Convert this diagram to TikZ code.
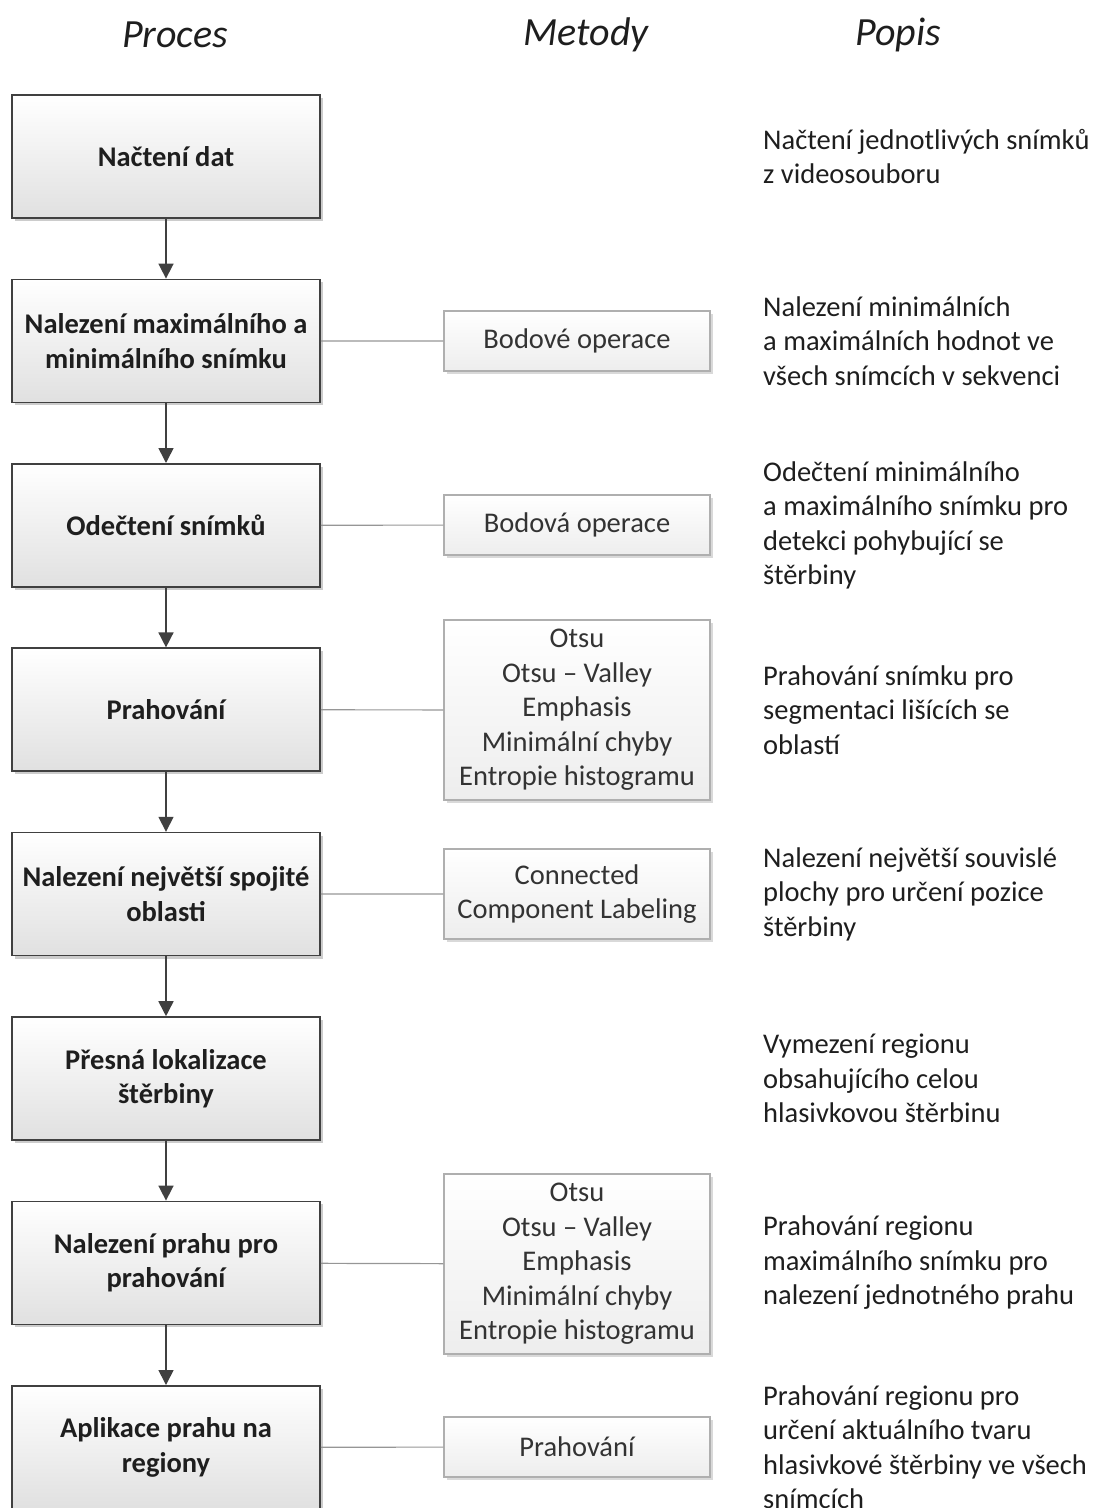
\documentclass[tikz,border=0pt]{standalone}
\usepackage{fontspec}
\setmainfont{Carlito}
\usetikzlibrary{positioning,arrows.meta,shadows}
\definecolor{boxline}{RGB}{64,64,64}
\definecolor{methodline}{RGB}{175,175,175}
\definecolor{linkcolor}{RGB}{150,150,150}
\definecolor{textcolor}{RGB}{30,30,30}

\begin{document}
\begin{tikzpicture}[x=1pt, y=-1pt,
    proces/.style={draw=boxline, line width=1.6pt, top color=white, bottom color=black!12,
        minimum width=308pt, minimum height=123pt, inner sep=0pt, align=center,
        font=\fontsize{28.5}{34.5}\selectfont\bfseries, text=textcolor,
        drop shadow={shadow xshift=3pt, shadow yshift=-3pt, opacity=0.2, fill=black}},
    metoda/.style={draw=methodline, line width=1.2pt, top color=white, bottom color=black!7,
        minimum width=266pt, minimum height=60pt, inner sep=0pt, align=center,
        font=\fontsize{28.5}{34.5}\selectfont, text=black!80,
        drop shadow={shadow xshift=3pt, shadow yshift=-3pt, opacity=0.15, fill=black}},
    popis/.style={anchor=west, align=left, inner sep=0pt,
        font=\fontsize{28.5}{34.5}\selectfont, text=textcolor},
    hlavicka/.style={font=\fontsize{40}{46}\selectfont\itshape, text=textcolor},
    sipka/.style={draw=boxline, line width=1.6pt, -{Triangle[width=15pt,length=15pt]}},
    spoj/.style={draw=linkcolor, line width=1.2pt}
    ]
    \useasboundingbox (0,0) rectangle (1099,1508);

    % Headers
    \node[hlavicka] (hproces) at (175,35) {Proces};
    \node[hlavicka] (hmetody) at (586,35) {Metody};
    \node[hlavicka] (hpopis) at (898,35) {Popis};

    % Process steps
    \foreach \nazev [count=\i] in {{Načtení dat},
        {Nalezení maximálního a\\minimálního snímku},
        {Odečtení snímků},
        {Prahování},
        {Nalezení největší spojité\\oblasti},
        {Přesná lokalizace\\štěrbiny},
        {Nalezení prahu pro\\prahování},
        {Aplikace prahu na\\regiony}} {
        \pgfmathsetmacro{\ypos}{156.5+184.4*(\i-1)}
        \node[proces] (p\i) at (166,\ypos) {\nazev};
    }

    % Arrows between steps
    \foreach \i in {1,...,7} {
        \pgfmathtruncatemacro{\k}{\i+1}
        \draw[sipka] (p\i) -- (p\k);
    }

    % Methods
    \node[metoda] (m2) at (577,341) {Bodové operace};
    \node[metoda] (m3) at (577,525) {Bodová operace};
    \node[metoda, minimum height=180pt] (m4) at (577,710)
        {Otsu\\Otsu – Valley\\Emphasis\\Minimální chyby\\Entropie histogramu};
    \node[metoda, minimum height=90pt] (m5) at (577,894)
        {Connected\\Component Labeling};
    \node[metoda, minimum height=180pt] (m7) at (577,1264)
        {Otsu\\Otsu – Valley\\Emphasis\\Minimální chyby\\Entropie histogramu};
    \node[metoda] (m8) at (577,1447) {Prahování};

    \foreach \i in {2,3,4,5,7,8} {
        \draw[spoj] (p\i) -- (m\i);
    }

    % Descriptions
    \foreach \popistext [count=\i] in {{Načtení jednotlivých snímků\\z videosouboru},
        {Nalezení minimálních\\a maximálních hodnot ve\\všech snímcích v sekvenci},
        {Odečtení minimálního\\a maximálního snímku pro\\detekci pohybující se\\štěrbiny},
        {Prahování snímku pro\\segmentaci lišících se\\oblastí},
        {Nalezení největší souvislé\\plochy pro určení pozice\\štěrbiny},
        {Vymezení regionu\\obsahujícího celou\\hlasivkovou štěrbinu},
        {Prahování regionu\\maximálního snímku pro\\nalezení jednotného prahu},
        {Prahování regionu pro\\určení aktuálního tvaru\\hlasivkové štěrbiny ve všech\\snímcích}} {
        \pgfmathsetmacro{\ypos}{156.5+184.4*(\i-1)}
        \node[popis] (d\i) at (763,\ypos) {\popistext};
    }
\end{tikzpicture}
\end{document}
